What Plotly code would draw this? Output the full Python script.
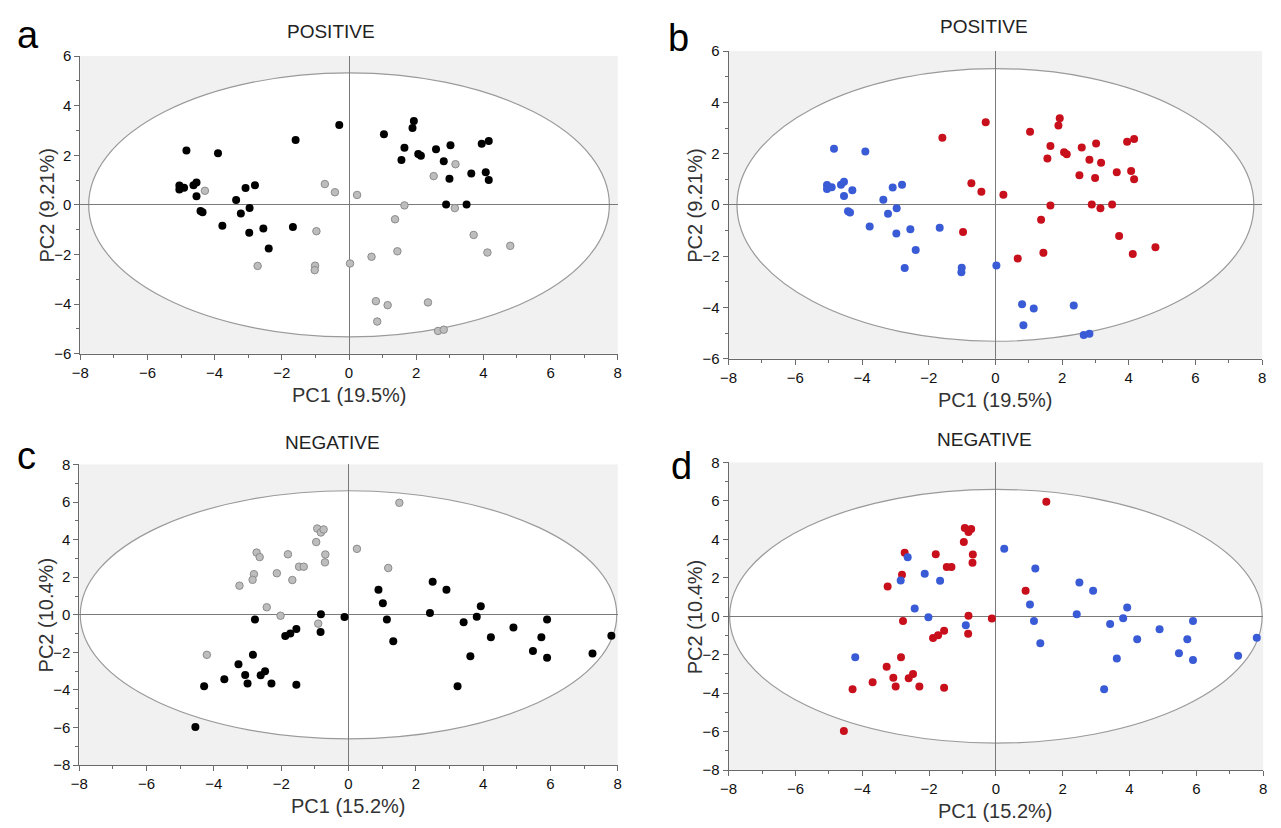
import plotly.graph_objects as go

W, H = 1281, 828

# ---- positive ion mode scores (shared by panels a and b) ----
pos_pc1 = [-5.05, -5.05, -4.91, -4.84, -4.63, -4.54, -4.54, -4.42, -4.36, -4.29,
           -3.90, -3.77, -3.36, -3.22, -3.08, -2.96, -2.97, -2.80, -2.55, -2.39,
           -2.72, -1.67, -1.01, -1.02, 0.03, 0.80, 0.84, 1.15, 2.35, 2.65,
           2.82, -1.59, -0.29, -0.72, -0.42, 0.24, -0.97, 0.67, 1.04, 1.37,
           1.44, 1.56, 1.65, 1.65, 1.89, 1.93, 2.06, 2.14, 2.52, 2.59,
           2.82, 2.89, 2.99, 3.02, 3.17, 3.15, 3.50, 3.64, 3.71, 3.95,
           4.07, 4.12, 4.16, 4.16, 4.80]
pos_pc2 = [0.78, 0.62, 0.69, 2.19, 0.79, 0.90, 0.35, -0.25, -0.30, 0.57,
           2.08, -0.84, 0.20, -0.35, 0.68, -0.13, -1.12, 0.79, -0.95, -1.76,
           -2.46, -0.89, -2.45, -2.63, -2.36, -3.88, -4.70, -4.04, -3.93, -5.08,
           -5.03, 2.62, 3.22, 0.84, 0.51, 0.40, -1.06, -2.09, 2.85, -0.58,
           -1.87, 1.81, 2.30, -0.02, 3.10, 3.38, 2.05, 1.98, 1.16, 2.24,
           1.76, 0.02, 1.05, 2.40, 1.64, -0.13, 0.02, 1.27, -1.21, 2.46,
           1.32, -1.92, 2.57, 1.00, -1.65]
# panel a grouping (K = black, G = grey)
pos_group_a = ["K", "K", "K", "K", "K", "K", "K", "K", "K", "G",
               "K", "K", "K", "K", "K", "K", "K", "K", "K", "K",
               "G", "K", "G", "G", "G", "G", "G", "G", "G", "G",
               "G", "K", "K", "G", "G", "G", "G", "G", "K", "G",
               "G", "K", "K", "G", "K", "K", "K", "K", "G", "K",
               "K", "K", "K", "K", "G", "G", "K", "K", "G", "K",
               "K", "G", "K", "K", "G"]
# panel b grouping (B = blue, R = red)
pos_group_b = ["B"] * 31 + ["R"] * 34

# ---- negative ion mode scores (shared by panels c and d) ----
neg_pc1 = [-4.55, -4.29, -3.69, -3.27, -3.07, -3.00, -2.84, -2.78, -2.61, -2.48,
           -2.29, -1.88, -1.73, -1.55, -1.55, -0.83, -0.82, -0.12, 0.89, -3.24,
           -2.81, -2.73, -1.80, -1.47, -1.33, -0.96, -0.93, -0.82, -0.74, -0.69,
           -0.70, 1.51, -4.21, -2.85, -2.64, -2.43, -2.13, -2.02, -1.67, -0.90,
           0.25, 1.18, 1.02, 1.14, 1.33, 2.42, 2.50, 2.91, 3.24, 3.42,
           3.62, 3.81, 3.93, 4.23, 4.90, 5.48, 5.73, 5.90, 5.90, 7.25,
           7.81]
neg_pc2 = [-5.97, -3.80, -3.43, -2.63, -3.20, -3.66, -2.13, -0.25, -3.22, -3.00,
           -3.65, -1.13, -0.99, -0.75, -3.72, -0.91, 0.03, -0.12, 1.33, 1.55,
           2.16, 3.31, 3.22, 2.56, 2.56, 3.87, 4.59, 4.38, 4.54, 3.21,
           2.79, 5.96, -2.13, 1.86, 3.07, 0.40, 2.21, -0.05, 1.85, -0.47,
           3.51, 2.49, 0.61, -0.25, -1.41, 0.10, 1.76, 1.33, -3.80, -0.40,
           -2.20, -0.10, 0.46, -1.19, -0.68, -1.92, -1.19, -0.25, -2.28, -2.06,
           -1.12]
neg_group_c = ["K"] * 19 + ["G"] * 13 + ["G"] * 10 + ["K"] * 19
neg_group_d = ["R"] * 32 + ["B"] * 29

# 95% confidence ellipse half-axes per ion mode
pos_ellipse = (7.75, 5.32)
neg_ellipse = (7.97, 6.60)

panel_titles = ["POSITIVE", "POSITIVE", "NEGATIVE", "NEGATIVE"]
panel_letters = ["a", "b", "c", "d"]
pc1_labels = ["PC1 (19.5%)", "PC1 (19.5%)", "PC1 (15.2%)", "PC1 (15.2%)"]
pc2_labels = ["PC2 (9.21%)", "PC2 (9.21%)", "PC2 (10.4%)", "PC2 (10.4%)"]

marker_styles = {
    "K": dict(color="#000000", size=8, line=dict(width=0)),
    "G": dict(color="#bdbdbd", size=7.5, line=dict(color="#8c8c8c", width=1)),
    "R": dict(color="#c8101c", size=8, line=dict(width=0)),
    "B": dict(color="#3a5bd6", size=8, line=dict(width=0)),
}

# plot-area boxes in pixels: left, right, top, bottom
boxes = [(72, 615, 48, 352), (727, 1266, 43, 357),
         (71, 615, 465, 772), (727, 1267, 463, 777)]
y_ranges = [(-6, 6), (-6, 6), (-8, 8), (-8, 8)]

panels = [
    (pos_pc1, pos_pc2, pos_group_a, ["K", "G"], pos_ellipse),
    (pos_pc1, pos_pc2, pos_group_b, ["B", "R"], pos_ellipse),
    (neg_pc1, neg_pc2, neg_group_c, ["K", "G"], neg_ellipse),
    (neg_pc1, neg_pc2, neg_group_d, ["R", "B"], neg_ellipse),
]


def px(x):
    return x / W


def py(y):
    return 1 - y / H


fig = go.Figure()
tick_font = dict(family="Liberation Sans Narrow, Arial Narrow, Liberation Sans, Arial",
                 size=15, color="#111111")
label_font = dict(family="Liberation Sans, Arial, sans-serif", size=20, color="#333333")
title_font = dict(family="Liberation Sans, Arial, sans-serif", size=19, color="#222222")
letter_font = dict(family="Liberation Sans, Arial, sans-serif", size=38, color="#000000")

for i, (xs, ys, groups, order, (rx, ry)) in enumerate(panels):
    n = i + 1
    xa = "x" if n == 1 else f"x{n}"
    ya = "y" if n == 1 else f"y{n}"
    l, r, t, b = boxes[i]

    # confidence ellipse, filled white over the grey plot background
    fig.add_shape(type="circle", xref=xa, yref=ya, x0=-rx, x1=rx, y0=-ry, y1=ry,
                  fillcolor="white", line=dict(color="#9a9a9a", width=1.2),
                  layer="below")

    for g in order:
        gx = [x for x, k in zip(xs, groups) if k == g]
        gy = [y for y, k in zip(ys, groups) if k == g]
        fig.add_trace(go.Scatter(x=gx, y=gy, mode="markers", xaxis=xa, yaxis=ya,
                                 marker=marker_styles[g], showlegend=False,
                                 hoverinfo="x+y"))

    axis_common = dict(showgrid=False, zeroline=True, zerolinecolor="#7a7a7a",
                       zerolinewidth=1, showline=True, linecolor="#6a6a6a",
                       linewidth=1, ticks="outside", ticklen=5, tickcolor="#6a6a6a",
                       tickfont=tick_font, dtick=2, fixedrange=True,
                       minor=dict(ticks="outside", ticklen=3, dtick=1,
                                  tickcolor="#6a6a6a"))
    fig.update_layout({
        ("xaxis" if n == 1 else f"xaxis{n}"): dict(
            axis_common, domain=[px(l), px(r)], range=[-8, 8], anchor=ya,
            tick0=-8),
        ("yaxis" if n == 1 else f"yaxis{n}"): dict(
            axis_common, domain=[py(b), py(t)], range=list(y_ranges[i]),
            anchor=xa, tick0=y_ranges[i][0]),
    })

    cx = (l + r) / 2
    cy = (t + b) / 2
    title_xy = [(325, 23), (985, 18), (327, 443), (985, 440)][i]
    fig.add_annotation(text=panel_titles[i], x=px(title_xy[0]), y=py(title_xy[1]),
                       xref="paper", yref="paper", showarrow=False, font=title_font,
                       xanchor="center", yanchor="middle")
    letter_pos = [(19, 27), (676, 30), (18, 456), (679, 467)][i]
    fig.add_annotation(text=panel_letters[i], x=px(letter_pos[0]), y=py(letter_pos[1]),
                       xref="paper", yref="paper", showarrow=False, font=letter_font,
                       xanchor="center", yanchor="middle")
    fig.add_annotation(text=pc1_labels[i], x=px(cx), y=py(b + 42), xref="paper",
                       yref="paper", showarrow=False, font=label_font,
                       xanchor="center", yanchor="middle")
    fig.add_annotation(text=pc2_labels[i], x=px(l - 34), y=py(cy), xref="paper",
                       yref="paper", showarrow=False, font=label_font, textangle=-90,
                       xanchor="center", yanchor="middle")

fig.update_layout(width=W, height=H, margin=dict(l=0, r=0, t=0, b=0),
                  paper_bgcolor="white", plot_bgcolor="#f1f1f1",
                  showlegend=False)

fig.write_html("out.html", config={"displayModeBar": False})
